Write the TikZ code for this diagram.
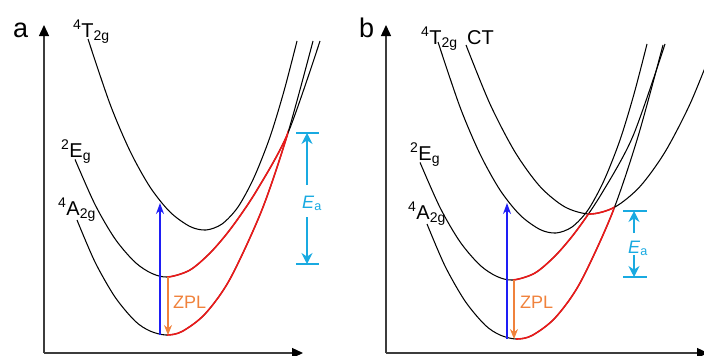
\documentclass[tikz,border=0pt]{standalone}
\usepackage{fontspec}
\setmainfont{Liberation Sans}
\usetikzlibrary{arrows.meta,intersections}

\definecolor{hotred}{RGB}{235,25,25}
\definecolor{pumpblue}{RGB}{30,30,245}
\definecolor{zplorange}{RGB}{240,130,60}
\definecolor{eacyan}{RGB}{25,170,225}
\definecolor{axisgray}{RGB}{60,60,60}

% potential curves (panel a frame, 1pt = 1px, y downwards)
\newcommand{\curveT}{plot[smooth] coordinates {(88,39) (110,104) (130,151) (150,187) (170,212) (190,226.5) (206,230) (222,224) (238,207) (254,177.5) (270,137) (284,91) (297,41)}}
\newcommand{\curveE}{plot[smooth] coordinates {(75,159.4) (95,204.5) (115,238.8) (135,262.2) (152,273.5) (168,277) (190,270) (211,252) (232,227) (257,190) (288,133) (320,41)}}
\newcommand{\curveA}{plot[smooth] coordinates {(77,220) (95,262) (115,297) (135,321) (150,331) (166,335) (182,331.5) (205,314) (230,279) (262,209.7) (288,132.6) (313,41)}}
\newcommand{\curveCT}{plot[smooth] coordinates {(466,45) (490,104) (515,152) (540,186.5) (565,207) (590,214) (615,207) (640,186.5) (665,152) (690,104) (712,50)}}

\begin{document}
\begin{tikzpicture}[x=1pt,y=-1pt,line join=round,
  pes/.style={black,line width=1.05pt},
  redpath/.style={hotred,line width=1.6pt},
  axisline/.style={axisgray,line width=1.3pt,-{Triangle[length=11pt,width=10pt,color=black]}},
  pump/.style={pumpblue,line width=1.3pt,-{Stealth[length=11pt,width=8pt]}},
  zpl/.style={zplorange,line width=1.1pt,-{Stealth[length=10pt,width=8pt]}},
  ealine/.style={eacyan,line width=1.2pt},
  eaarrow/.style={ealine,-{Stealth[length=11pt,width=11pt]}},
  statelabel/.style={inner sep=0pt,anchor=base west,font=\fontsize{20}{24}\selectfont},
  panellabel/.style={inner sep=0pt,anchor=base west,font=\fontsize{27}{30}\selectfont},
  zpllabel/.style={inner sep=0pt,anchor=base west,text=zplorange,font=\fontsize{18}{22}\selectfont},
  ealabel/.style={inner sep=0pt,anchor=base west,text=eacyan,font=\fontsize{18}{22}\selectfont}]
\useasboundingbox (0,0) rectangle (704,356);
\coordinate (top) at (0,0);
\coordinate (bottom) at (0,356);

% ---- panel a ----
\node[panellabel] (a-lab) at (13,37) {a};
\coordinate (a-o) at (44,353);
\coordinate (a-y) at (44,25);
\coordinate (a-x) at (303,353);
\draw[axisline] (a-o) -- (a-y);
\draw[axisline] (a-o) -- (a-x);

\draw[pes] \curveT;
\draw[pes] \curveE;
\draw[pes] \curveA;
\begin{scope}
\clip (167,0) rectangle (288,356);
\draw[redpath] \curveE;
\draw[redpath] \curveA;
\end{scope}

\node[statelabel] (a-t) at (73,37) {\textsuperscript{4}T\textsubscript{2g}};
\node[statelabel] (a-e) at (61,157) {\textsuperscript{2}E\textsubscript{g}};
\node[statelabel] (a-a) at (58,215) {\textsuperscript{4}A\textsubscript{2g}};

\coordinate (a-pump0) at (160,335);
\coordinate (a-pump1) at (160,203);
\draw[pump] (a-pump0) -- (a-pump1);
\coordinate (a-zpl0) at (168,277);
\coordinate (a-zpl1) at (168,335);
\draw[zpl] (a-zpl0) -- (a-zpl1);
\node[zpllabel] (a-zpltext) at (173,308) {ZPL};

\coordinate (a-eatl) at (296,133);
\coordinate (a-eatr) at (319,133);
\coordinate (a-eabl) at (296,264);
\coordinate (a-eabr) at (319,264);
\coordinate (a-eatop) at (307,133);
\coordinate (a-eabot) at (307,264);
\coordinate (a-eaup) at (307,185);
\coordinate (a-eadown) at (307,217);
\draw[ealine] (a-eatl) -- (a-eatr);
\draw[ealine] (a-eabl) -- (a-eabr);
\draw[eaarrow] (a-eaup) -- (a-eatop);
\draw[eaarrow] (a-eadown) -- (a-eabot);
\node[ealabel] (a-ea) at (302,208) {\textit{E}\textsubscript{a}};

% ---- panel b ----
\node[panellabel] (b-lab) at (359,37) {b};
\coordinate (b-o) at (386,353);
\coordinate (b-y) at (386,25);
\coordinate (b-x) at (708,353);
\draw[axisline] (b-o) -- (b-y);
\draw[axisline] (b-o) -- (b-x);

\draw[pes,shift={(350,3)}] \curveT;
\draw[pes,name path=eb,shift={(345,3)}] \curveE;
\draw[pes,name path=ab,shift={(350,4)}] \curveA;
\draw[pes,name path=ctb] \curveCT;
\path[name intersections={of=ctb and eb,by=ec}];
\path[name intersections={of=ctb and ab,by=ac}];
\begin{scope}
\clip (513,0) rectangle (ec |- bottom);
\draw[redpath,shift={(345,3)}] \curveE;
\end{scope}
\begin{scope}
\clip (516,0) rectangle (ac |- bottom);
\draw[redpath,shift={(350,4)}] \curveA;
\end{scope}
\begin{scope}
\clip (ec |- top) rectangle (ac |- bottom);
\draw[redpath] \curveCT;
\end{scope}

\node[statelabel] (b-t) at (421,44) {\textsuperscript{4}T\textsubscript{2g}};
\node[statelabel] (b-ct) at (467,44) {CT};
\node[statelabel] (b-e) at (410,160) {\textsuperscript{2}E\textsubscript{g}};
\node[statelabel] (b-a) at (408,219) {\textsuperscript{4}A\textsubscript{2g}};

\coordinate (b-pump0) at (507,339);
\coordinate (b-pump1) at (507,203);
\draw[pump] (b-pump0) -- (b-pump1);
\coordinate (b-zpl0) at (514,280);
\coordinate (b-zpl1) at (514,339);
\draw[zpl] (b-zpl0) -- (b-zpl1);
\node[zpllabel] (b-zpltext) at (520,308) {ZPL};

\coordinate (b-eatl) at (623,211);
\coordinate (b-eatr) at (647,211);
\coordinate (b-eabl) at (623,277);
\coordinate (b-eabr) at (647,277);
\coordinate (b-eatop) at (634,211);
\coordinate (b-eabot) at (634,277);
\coordinate (b-eaup) at (634,233);
\coordinate (b-eadown) at (634,255);
\draw[ealine] (b-eatl) -- (b-eatr);
\draw[ealine] (b-eabl) -- (b-eabr);
\draw[eaarrow] (b-eaup) -- (b-eatop);
\draw[eaarrow] (b-eadown) -- (b-eabot);
\node[ealabel] (b-ea) at (628,253) {\textit{E}\textsubscript{a}};
\end{tikzpicture}
\end{document}
